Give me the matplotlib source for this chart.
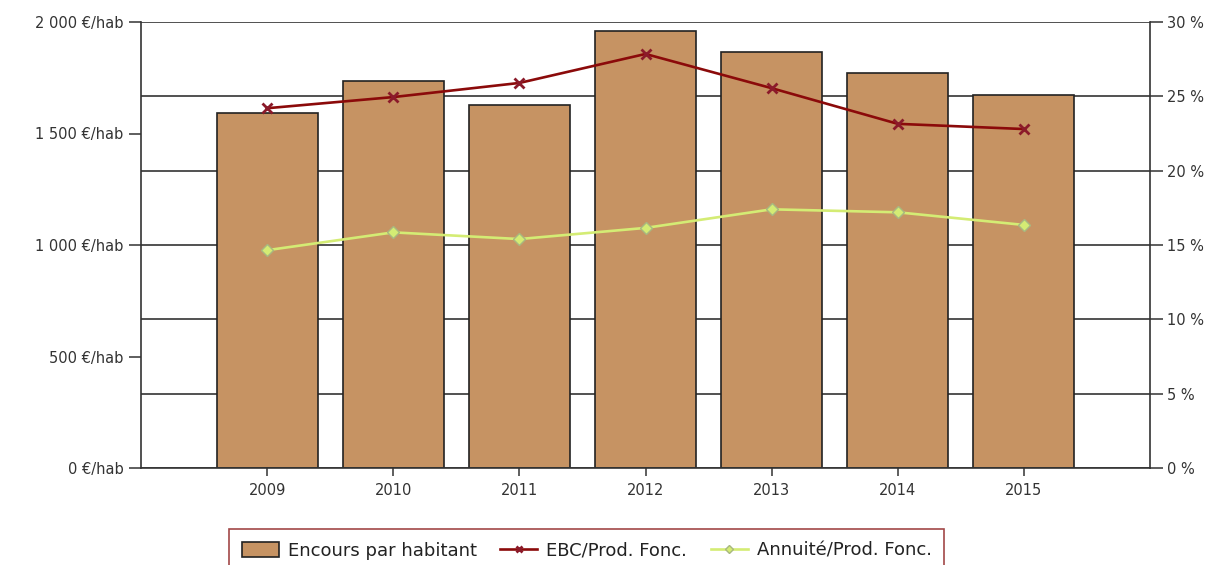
import matplotlib.pyplot as plt
from matplotlib.ticker import FuncFormatter, MultipleLocator

years = ['2009', '2010', '2011', '2012', '2013', '2014', '2015']
encours = [1592, 1735, 1628, 1960, 1865, 1771, 1673]
ebc = [24.2, 24.95, 25.9, 27.85, 25.55, 23.15, 22.8]
annuite = [14.65, 15.85, 15.4, 16.15, 17.4, 17.2, 16.35]

plt.rcParams['font.family'] = 'DejaVu Sans'
plt.rcParams['font.size'] = 10
text_color = '#333333'

fig = plt.figure(figsize=(12.19, 5.65), dpi=100)
ax = fig.add_axes([141 / 1219, 1 - 468 / 565, (1150 - 141) / 1219, (468 - 22) / 565])
x = list(range(len(years)))

bars = ax.bar(x, encours, width=0.8, color='#C69363', edgecolor='#222222',
              linewidth=1.2, zorder=2, label='Encours par habitant')
ax.set_xlim(-1, len(years))
ax.set_ylim(0, 2000)
ax.set_xticks(x)
ax.set_xticklabels(years)
ax.yaxis.set_major_locator(MultipleLocator(500))
ax.yaxis.set_major_formatter(FuncFormatter(lambda v, p: f'{int(v):,}'.replace(',', ' ') + ' €/hab'))
# grid follows the right-hand axis (every 5 %)
ax.yaxis.set_minor_locator(MultipleLocator(2000 / 6))
ax.yaxis.remove_overlapping_locs = False
ax.grid(which='minor', axis='y', color='#222222', linewidth=1.1, zorder=0)
ax.set_axisbelow(True)
ax.tick_params(axis='y', which='minor', length=0)
ax.tick_params(axis='y', which='major', length=9, width=1.1, color='#333333',
               labelcolor=text_color, labelsize=10.5)
ax.tick_params(axis='x', length=6, width=1.1, color='#333333', labelcolor=text_color,
               labelsize=10.5, pad=5)
for s in ['left', 'bottom', 'right']:
    ax.spines[s].set_color('#333333')
    ax.spines[s].set_linewidth(1.2)
ax.spines['top'].set_visible(False)

ax2 = ax.twinx()
ax2.set_ylim(0, 30)
ax2.yaxis.set_major_locator(MultipleLocator(5))
ax2.yaxis.set_major_formatter(FuncFormatter(lambda v, p: f'{int(v)} %'))
ax2.tick_params(axis='y', length=9, width=1.1, color='#333333', labelcolor=text_color,
                labelsize=10.5)
for s in ax2.spines.values():
    s.set_visible(False)

l1, = ax2.plot(x, ebc, color='#8B0A0A', linewidth=1.9, marker='x', markersize=7,
               markeredgewidth=2, markeredgecolor='#8B1A2A', label='EBC/Prod. Fonc.')
l2, = ax2.plot(x, annuite, color='#D4EC74', linewidth=1.9, marker='D', markersize=6,
               markerfacecolor='#D4EC74', markeredgecolor='#A8B880',
               markeredgewidth=1, label='Annuité/Prod. Fonc.')

leg = fig.legend([bars, l1, l2], ['Encours par habitant', 'EBC/Prod. Fonc.', 'Annuité/Prod. Fonc.'],
                 loc='upper left', bbox_to_anchor=(229 / 1219, 1 - 529 / 565), ncol=3,
                 fontsize=13, frameon=True, fancybox=False, handlelength=2.05,
                 handleheight=0.9, handletextpad=0.5, columnspacing=1.3,
                 borderpad=0.7, borderaxespad=0, markerscale=0.7, labelcolor='#222222')
leg.get_frame().set_edgecolor('#8B1A1A')
leg.get_frame().set_linewidth(1.2)

fig.savefig('out.png', dpi=100)
